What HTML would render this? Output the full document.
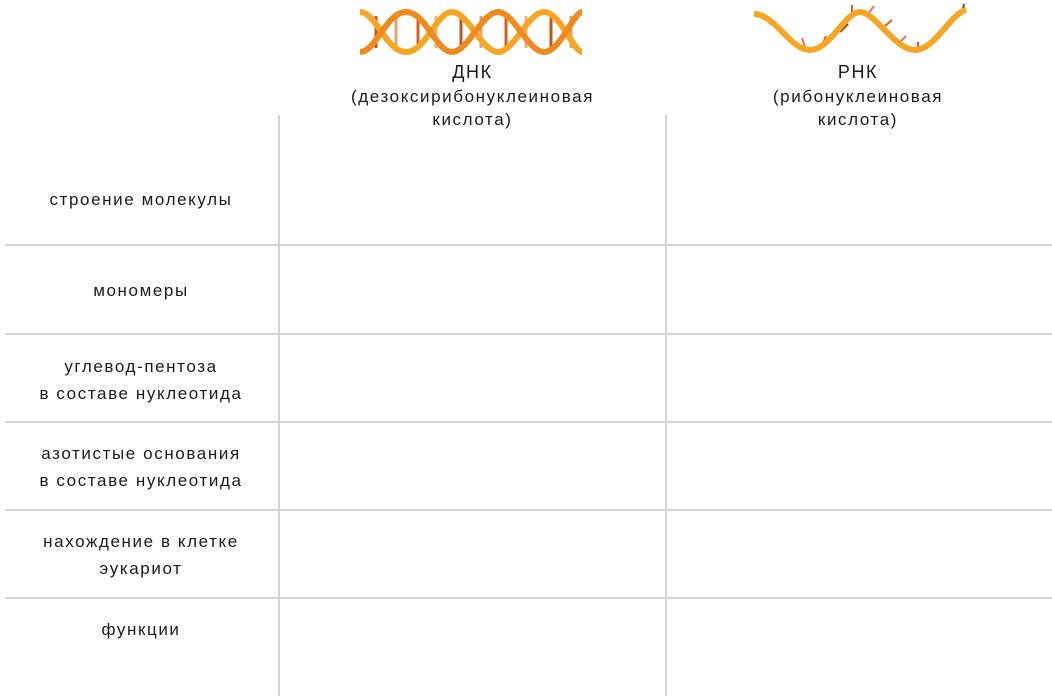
<!DOCTYPE html>
<html><head><meta charset="utf-8"><style>
body{margin:0;width:1052px;height:696px;background:#fff;position:relative;overflow:hidden;font-family:"Liberation Sans",sans-serif;color:#1a1a1a}
.t{position:absolute;text-align:center;font-size:17px;line-height:27px;letter-spacing:1.6px}
.hd{line-height:23.5px}
.h{position:absolute;background:#d4d4d4;height:2px;left:5px;width:1047px}
.v{position:absolute;background:#d4d4d4;width:2px;top:115px;height:581px}
</style></head><body>
<svg style="position:absolute;left:356px;top:8px" width="230" height="48">
<g stroke-width="3">
<line x1="20" y1="8" x2="20" y2="40" stroke="#c0571a"/><line x1="40" y1="8" x2="40" y2="40" stroke="#e8a070"/><line x1="62" y1="8" x2="62" y2="40" stroke="#d46020"/>
<line x1="80" y1="8" x2="80" y2="40" stroke="#f0b080"/><line x1="105" y1="8" x2="105" y2="40" stroke="#c0571a"/><line x1="125" y1="8" x2="125" y2="40" stroke="#e8a070"/>
<line x1="150" y1="8" x2="150" y2="40" stroke="#d46020"/><line x1="170" y1="8" x2="170" y2="40" stroke="#f0b080"/><line x1="195" y1="8" x2="195" y2="40" stroke="#c0571a"/><line x1="215" y1="8" x2="215" y2="40" stroke="#e8a070"/>
</g>
<path d="M4 4 C20 4,30 44,50 44 S80 4,96 4 S126 44,142 44 S172 4,188 4 S218 44,226 44" fill="none" stroke="#f6a623" stroke-width="6"/>
<path d="M4 44 C20 44,30 4,50 4 S80 44,96 44 S126 4,142 4 S172 44,188 44 S218 4,226 4" fill="none" stroke="#f08a1c" stroke-width="6"/>
</svg>
<svg style="position:absolute;left:750px;top:2px" width="220" height="52">
<g stroke-width="2">
<line x1="20" y1="22" x2="14" y2="12" stroke="#e05a2a"/><line x1="35" y1="34" x2="28" y2="26" stroke="#e05a2a"/><line x1="55" y1="45" x2="52" y2="36" stroke="#f07070"/><line x1="72" y1="44" x2="76" y2="34" stroke="#e05a2a"/><line x1="90" y1="30" x2="98" y2="22" stroke="#9a3a1a"/><line x1="102" y1="12" x2="102" y2="3" stroke="#e05a2a"/><line x1="118" y1="12" x2="124" y2="4" stroke="#f07070"/><line x1="135" y1="24" x2="142" y2="18" stroke="#e05a2a"/><line x1="150" y1="40" x2="156" y2="34" stroke="#f07070"/><line x1="168" y1="48" x2="168" y2="40" stroke="#e05a2a"/><line x1="190" y1="32" x2="196" y2="26" stroke="#9a3a1a"/><line x1="212" y1="12" x2="214" y2="2" stroke="#9a3a1a"/>
</g>
<path d="M4 12 C25 12,40 48,60 48 S95 10,110 10 S145 48,165 48 S200 12,216 8" fill="none" stroke="#f6a623" stroke-width="6"/>
</svg>
<div class="t hd" style="left:300px;width:345px;top:61px"><span style="font-size:18px">ДНК</span><br>(дезоксирибонуклеиновая<br>кислота)</div>
<div class="t hd" style="left:686px;width:344px;top:61px"><span style="font-size:18px">РНК</span><br>(рибонуклеиновая<br>кислота)</div>
<div class="v" style="left:278px"></div>
<div class="v" style="left:665px"></div>
<div class="h" style="top:244px"></div>
<div class="h" style="top:333px"></div>
<div class="h" style="top:421px"></div>
<div class="h" style="top:509px"></div>
<div class="h" style="top:597px"></div>
<div class="t" style="left:0;width:282px;top:186px">строение молекулы</div>
<div class="t" style="left:0;width:282px;top:277px">мономеры</div>
<div class="t" style="left:0;width:282px;top:353px">углевод-пентоза<br>в составе нуклеотида</div>
<div class="t" style="left:0;width:282px;top:440px">азотистые основания<br>в составе нуклеотида</div>
<div class="t" style="left:0;width:282px;top:528px">нахождение в клетке<br>эукариот</div>
<div class="t" style="left:0;width:282px;top:616px">функции</div>
</body></html>
